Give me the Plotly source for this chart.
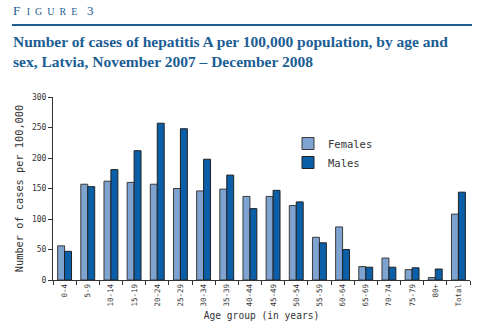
import plotly.graph_objects as go

categories = ["0-4", "5-9", "10-14", "15-19", "20-24", "25-29", "30-34", "35-39",
              "40-44", "45-49", "50-54", "55-59", "60-64", "65-69", "70-74",
              "75-79", "80+", "Total"]
females = [56, 157, 162, 160, 157, 150, 146, 149, 137, 137, 122, 70, 87, 22, 36, 17, 4, 108]
males = [47, 153, 181, 212, 257, 248, 198, 172, 117, 147, 128, 61, 50, 21, 21, 20, 18, 144]
y_ticks = [0, 50, 100, 150, 200, 250, 300]

W, H = 490, 333
L, R, T, B = 53, 20, 97, 53
pw, ph = W - L - R, H - T - B
def px(x): return (x - L) / pw
def py(y): return (H - B - y) / ph

blue = "#1b5e94"
mono = "DejaVu Sans Mono"
nb = "\u00a0"

fig = go.Figure()
fig.add_trace(go.Bar(x=categories, y=females, name="Females",
                     marker=dict(color="#7ea3d0", line=dict(color="#3a3a3a", width=1))))
fig.add_trace(go.Bar(x=categories, y=males, name="Males",
                     marker=dict(color="#0b5ea8", line=dict(color="#222222", width=1))))

fig.update_layout(
    width=W, height=H,
    margin=dict(l=L, r=R, t=T, b=B),
    paper_bgcolor="white", plot_bgcolor="white",
    barmode="group", bargap=0.4, bargroupgap=0,
    font=dict(family=mono, color="#333333"),
    showlegend=True,
    legend=dict(x=px(288), y=py(129), xanchor="left", yanchor="top",
                font=dict(family=mono, size=10.5, color="#333333"),
                bgcolor="rgba(0,0,0,0)", tracegroupgap=0),
    xaxis=dict(showline=True, linecolor="#333333", linewidth=1,
               ticks="outside", tickson="boundaries", ticklen=4, tickcolor="#333333",
               tickangle=-90, tickfont=dict(family=mono, size=7.5, color="#333333"),
               title=dict(text="Age group (in years)", standoff=6,
                          font=dict(family=mono, size=9.6, color="#333333")),
               showgrid=False),
    yaxis=dict(range=[0, 300], tickvals=y_ticks, showline=True, linecolor="#333333",
               linewidth=1, ticks="outside", ticklen=4, tickcolor="#333333",
               tickfont=dict(family=mono, size=8, color="#333333"),
               title=dict(text="Number of cases per 100,000", standoff=6,
                          font=dict(family=mono, size=10.3, color="#333333")),
               showgrid=False, zeroline=False),
)

small = (nb * 2).join(list("IGURE"))
fig.add_annotation(xref="paper", yref="paper", x=px(11), y=py(20),
                   xanchor="left", yanchor="bottom", showarrow=False,
                   text="F" + nb * 2 + "<span style='font-size:10px'>" + small + "</span>" + nb * 3 + "3",
                   font=dict(family="Liberation Serif", size=13, color=blue))
fig.add_shape(type="line", xref="paper", yref="paper",
              x0=px(12), x1=px(472), y0=py(25), y1=py(25),
              line=dict(color=blue, width=2))
fig.add_annotation(xref="paper", yref="paper", x=px(11), y=py(31),
                   xanchor="left", yanchor="top", showarrow=False, align="left",
                   text="<b>Number of cases of hepatitis A per 100,000 population, by age and<br>sex, Latvia, November 2007 \u2013 December 2008</b>",
                   font=dict(family="Liberation Serif", size=15.5, color=blue))

fig.write_html("out.html")
